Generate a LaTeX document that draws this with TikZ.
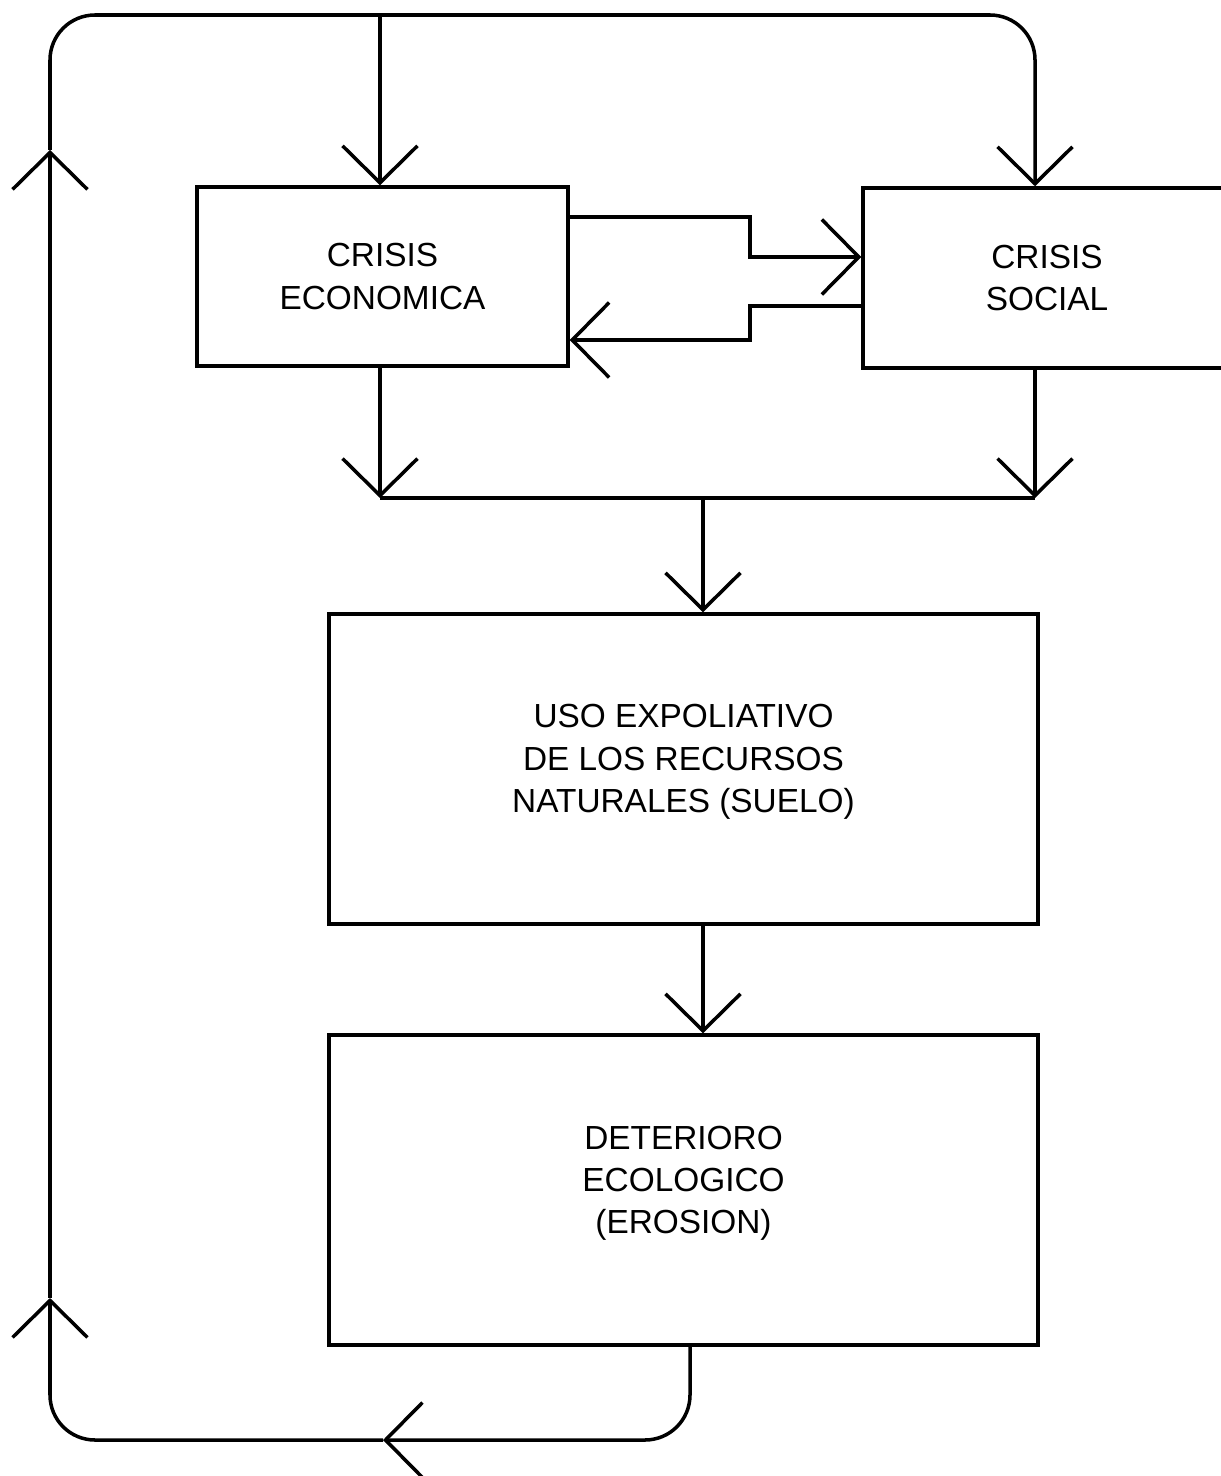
\documentclass[tikz,border=0pt]{standalone}
\usepackage{fontspec}
\setmainfont{Liberation Sans}
\usetikzlibrary{arrows.meta}
\begin{document}
\begin{tikzpicture}[x=0.02cm, y=-0.02cm, line width=2pt,
  box/.style={draw, align=center, font=\fontsize{19}{24}\selectfont},
  tip/.style={-{Straight Barb[length=0.74cm, width=1.5cm]}}]
\useasboundingbox (0,0) rectangle (1220,1476);
\node[box, minimum width=7.42cm, minimum height=3.58cm](eco) at (382.5, 276.5) {CRISIS\\ECONOMICA};
\node[box, minimum width=7.36cm, minimum height=3.6cm](soc) at (1047, 278) {CRISIS\\SOCIAL};
\node[box, minimum width=14.18cm, minimum height=6.2cm, text depth=0.42cm](uso) at (683.5, 769) {USO EXPOLIATIVO\\DE LOS RECURSOS\\NATURALES (SUELO)};
\node[box, minimum width=14.18cm, minimum height=6.2cm, text depth=0.42cm](det) at (683.5, 1190) {DETERIORO\\ECOLOGICO\\(EROSION)};
% bends of the connectors
\coordinate (e1) at (750, 217);
\coordinate (e2) at (750, 257);
\coordinate (s1) at (750, 306);
\coordinate (s2) at (750, 340);
\coordinate (m1) at (380, 498);
\coordinate (m2) at (1035, 498);
\coordinate (m3) at (703, 498);
% feedback loop
\coordinate (c1) at (690, 1440);
\coordinate (b) at (383, 1440);
\coordinate (c2) at (50, 1440);
\coordinate (l1) at (50, 1298);
\coordinate (l2) at (50, 150);
\coordinate (c3) at (50, 15);
\coordinate (t) at (380, 15);
\coordinate (c4) at (1035, 15);
\draw[tip] (eco.east |- e1) -- (e1) -- (e2) -- (soc.west |- e2);
\draw[tip] (soc.west |- s1) -- (s1) -- (s2) -- (eco.east |- s2);
\draw[tip] (eco.south -| m1) -- (m1);
\draw[tip] (soc.south -| m2) -- (m2);
\draw (m1) -- (m2);
\draw[tip] (m3) -- (uso.north -| m3);
\draw[tip] (uso.south -| m3) -- (det.north -| m3);
\draw[tip, rounded corners=0.9cm] (det.south -| c1) -- (c1) -- (b);
\draw[tip, rounded corners=0.9cm] (b) -- (c2) -- (l1);
\draw[tip] (l1) -- (l2);
\draw[tip, rounded corners=0.9cm] (l2) -- (c3) -- (c4) -- (soc.north -| c4);
\draw[tip] (t) -- (eco.north -| t);
\end{tikzpicture}
\end{document}
